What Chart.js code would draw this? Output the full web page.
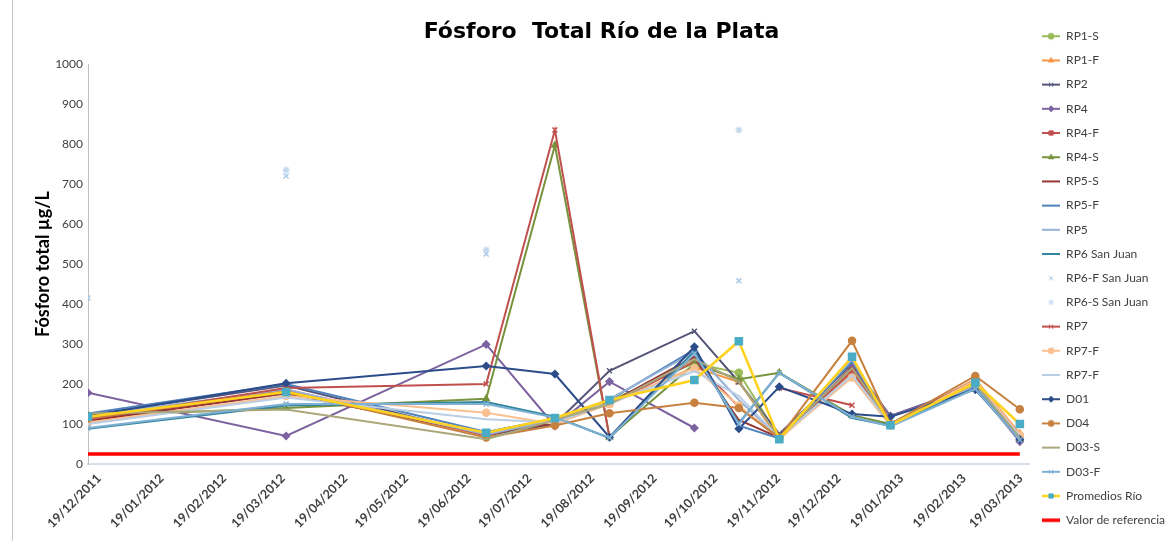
<!DOCTYPE html>
<html>
<head>
<meta charset="utf-8">
<script src="https://cdn.jsdelivr.net/npm/chart.js@4"></script>
<style>
  body { margin: 0; background: #fff; }
  #wrap { position: relative; width: 1175px; height: 541px; }
  #frame { position: absolute; left: 12px; top: 0; width: 1163px; height: 541px; border-left: 1px solid #c8c8c8; box-sizing: border-box; }
</style>
</head>
<body>
<div id="wrap">
  <div id="frame"></div>
  <canvas id="fosforoChart"></canvas>
</div>
<script>
// fechas de muestreo
const sampleDates = ['2011-12-19', '2012-03-26', '2012-07-03', '2012-08-06', '2012-09-02', '2012-10-14',
                     '2012-11-05', '2012-11-25', '2012-12-31', '2013-01-19', '2013-03-02', '2013-03-24'];

const tickLabels = ['19/12/2011', '19/01/2012', '19/02/2012', '19/03/2012', '19/04/2012', '19/05/2012',
                    '19/06/2012', '19/07/2012', '19/08/2012', '19/09/2012', '19/10/2012', '19/11/2012',
                    '19/12/2012', '19/01/2013', '19/02/2013', '19/03/2013'];

// Fósforo total (µg/L) por estación
const rp1s   = [115, 178, 75, 112, 158, 252, 228, 66, 238, 100, 206, 72];
const rp1f   = [105, 182, 70, 108, 150, 242, 205, 62, 226, 96, 212, 76];
const rp2    = [122, 196, 72, 100, 233, 332, 205, 75, 250, 120, 196, 60];
const rp4    = [178, 70, 299, 95, 206, 90, null, null, 243, 120, 192, 56];
const rp4f   = [110, 186, 72, 110, 150, 256, 143, 64, 232, 100, 206, 70];
const rp4s   = [120, 140, 163, 797, 67, 250, 212, 228, 122, 100, 200, 64];
const rp5s   = [108, 176, 76, 102, 152, 268, 110, 66, 242, 100, 210, 66];
const rp5f   = [126, 200, 80, 114, 160, 286, 96, 64, 256, 100, 190, 64];
const rp5    = [120, 186, 74, 110, 162, 280, 160, 66, 262, 100, 196, 70];
const rp6    = [88, 146, 155, 118, 65, 282, 102, 228, 115, 96, 190, 60];
const rp6f   = [415, 720, 525, null, null, null, 458, null, null, null, null, null];
const rp6s   = [null, 735, 535, null, null, null, 835, null, null, null, null, null];
const rp7    = [112, 190, 200, 835, 67, null, null, 190, 147, null, null, null];
const rp7f   = [104, 170, 128, 100, 150, 240, 146, 64, 216, 96, 210, 72];
const rp7f2  = [100, 166, 112, 104, 152, 232, 170, 66, 222, 100, 200, 70];
const d01    = [120, 202, 245, 225, 67, 293, 88, 193, 125, 118, 186, 62];
const d04    = [114, 182, 66, 96, 127, 153, 140, 66, 308, 100, 220, 137];
const d03s   = [126, 136, 62, 110, 150, 262, 206, 66, 240, 100, 200, 66];
const d03f   = [90, 150, 150, 116, 66, 276, 100, 228, 118, 94, 188, 60];
const promedios = [118, 180, 78, 115, 160, 210, 307, 62, 268, 97, 203, 100];
const referencia = [25, 25, 25, 25, 25, 25, 25, 25, 25, 25, 25, 25];

const startMs = Date.parse(sampleDates[0]);
const dayOf = (ms) => (ms - startMs) / 86400000;
const sampleDays = sampleDates.map(d => dayOf(Date.parse(d)));
const tickDays = tickLabels.map(t => {
    const [dd, mm, yy] = t.split('/').map(Number);
    return dayOf(Date.UTC(yy, mm - 1, dd));
});

const series = [
    { label: 'RP1-S', data: rp1s, color: '#9BBB59', marker: 'circle' },
    { label: 'RP1-F', data: rp1f, color: '#F79646', marker: 'triangle' },
    { label: 'RP2', data: rp2, color: '#55557a', marker: 'crossRot' },
    { label: 'RP4', data: rp4, color: '#7d62a0', marker: 'rectRot' },
    { label: 'RP4-F', data: rp4f, color: '#C0504D', marker: 'rect' },
    { label: 'RP4-S', data: rp4s, color: '#77933C', marker: 'triangle' },
    { label: 'RP5-S', data: rp5s, color: '#953735' },
    { label: 'RP5-F', data: rp5f, color: '#4F81BD' },
    { label: 'RP5', data: rp5, color: '#95B3D7' },
    { label: 'RP6 San Juan', data: rp6, color: '#31859C' },
    { label: 'RP6-F San Juan', data: rp6f, color: '#a9c8e4', marker: 'crossRot', noLine: true },
    { label: 'RP6-S San Juan', data: rp6s, color: '#c5d9ee', marker: 'star', noLine: true },
    { label: 'RP7', data: rp7, color: '#c0504d', marker: 'crossRot' },
    { label: 'RP7-F', data: rp7f, color: '#FAC090', marker: 'circle' },
    { label: 'RP7-F', data: rp7f2, color: '#B9CDE5' },
    { label: 'D01', data: d01, color: '#2c4d8a', marker: 'rectRot' },
    { label: 'D04', data: d04, color: '#c7813f', marker: 'circle' },
    { label: 'D03-S', data: d03s, color: '#aaa77a' },
    { label: 'D03-F', data: d03f, color: '#7fb0d4', marker: 'crossRot' },
    { label: 'Promedios Río', data: promedios, color: '#FFD21F', marker: 'rect', markerColor: '#4BACC6', width: 2.5, radius: 5 },
    { label: 'Valor de referencia', data: referencia, color: '#FF0000', width: 3.5 }
];

function legendIcon(s) {
    const c = document.createElement('canvas');
    c.width = 18; c.height = 10;
    const g = c.getContext('2d');
    if (!s.noLine) {
        g.strokeStyle = s.color;
        g.lineWidth = s.width || 2;
        g.beginPath(); g.moveTo(0, 5); g.lineTo(18, 5); g.stroke();
    }
    if (s.marker && Chart.helpers && Chart.helpers.drawPoint) {
        g.fillStyle = s.markerColor || s.color;
        g.strokeStyle = s.markerColor || s.color;
        g.lineWidth = 1;
        Chart.helpers.drawPoint(g, { pointStyle: s.marker, radius: 3, rotation: 0, borderWidth: 1 }, 9, 5);
    }
    return c;
}
const icons = series.map(legendIcon);

const datasets = series.map((s, i) => ({
    label: s.label,
    data: s.data.map((v, k) => ({ x: sampleDays[k], y: v })),
    borderColor: s.color,
    backgroundColor: s.markerColor || s.color,
    borderWidth: s.width || 2,
    showLine: !s.noLine,
    pointStyle: s.marker || 'circle',
    pointRadius: s.marker ? (s.radius || 3.5) : 0,
    pointBorderColor: s.markerColor || s.color,
    pointBackgroundColor: s.markerColor || s.color,
    pointBorderWidth: 1.5,
    tension: 0,
    order: -i
}));

const ctx = document.getElementById('fosforoChart');
new Chart(ctx, {
    type: 'line',
    data: { datasets },
    options: {
        responsive: true, maintainAspectRatio: false, animation: false,
        layout: { padding: { left: 28, top: 18, right: 0, bottom: 0 } },
        plugins: {
            title: {
                display: true, text: 'Fósforo  Total Río de la Plata', color: '#000',
                font: { family: 'DejaVu Sans', size: 22, weight: 'bold' },
                padding: { top: 1, bottom: 18.6 }
            },
            legend: {
                position: 'right', align: 'start', reverse: true,
                labels: {
                    usePointStyle: true, pointStyleWidth: 18, padding: 12.2,
                    color: '#404040', font: { family: 'Lato', size: 12 },
                    generateLabels: (chart) => {
                        const items = Chart.defaults.plugins.legend.labels.generateLabels(chart);
                        items.forEach(it => { it.pointStyle = icons[it.datasetIndex]; });
                        return items;
                    }
                }
            },
            tooltip: { enabled: false }
        },
        scales: {
            x: {
                type: 'linear', min: 0, max: 466,
                grid: { display: false, drawTicks: false },
                border: { display: true, color: '#d5e0ea', width: 2 },
                afterBuildTicks: (axis) => { axis.ticks = tickDays.map(v => ({ value: v })); },
                afterFit: (axis) => { axis.height = 77; },
                ticks: {
                    autoSkip: false, maxRotation: 45, minRotation: 45, padding: 7, labelOffset: 11,
                    color: '#404040', font: { family: 'Lato', size: 12.5, weight: 'bold' },
                    callback: (value, index) => tickLabels[index]
                }
            },
            y: {
                min: 0, max: 1000,
                grid: { display: false, drawTicks: false },
                border: { display: true, color: '#bfbfbf', width: 1 },
                ticks: { stepSize: 100, padding: 5, color: '#404040', font: { family: 'Lato', size: 12 },
                         callback: (v) => String(v) },
                title: {
                    display: true, text: 'Fósforo total µg/L', color: '#000',
                    font: { family: 'Lato', size: 18, weight: 'bold' },
                    padding: { top: 4, bottom: 0 }
                },
                afterFit: (axis) => { axis.width = 60; }
            }
        }
    }
});
</script>
</body>
</html>
